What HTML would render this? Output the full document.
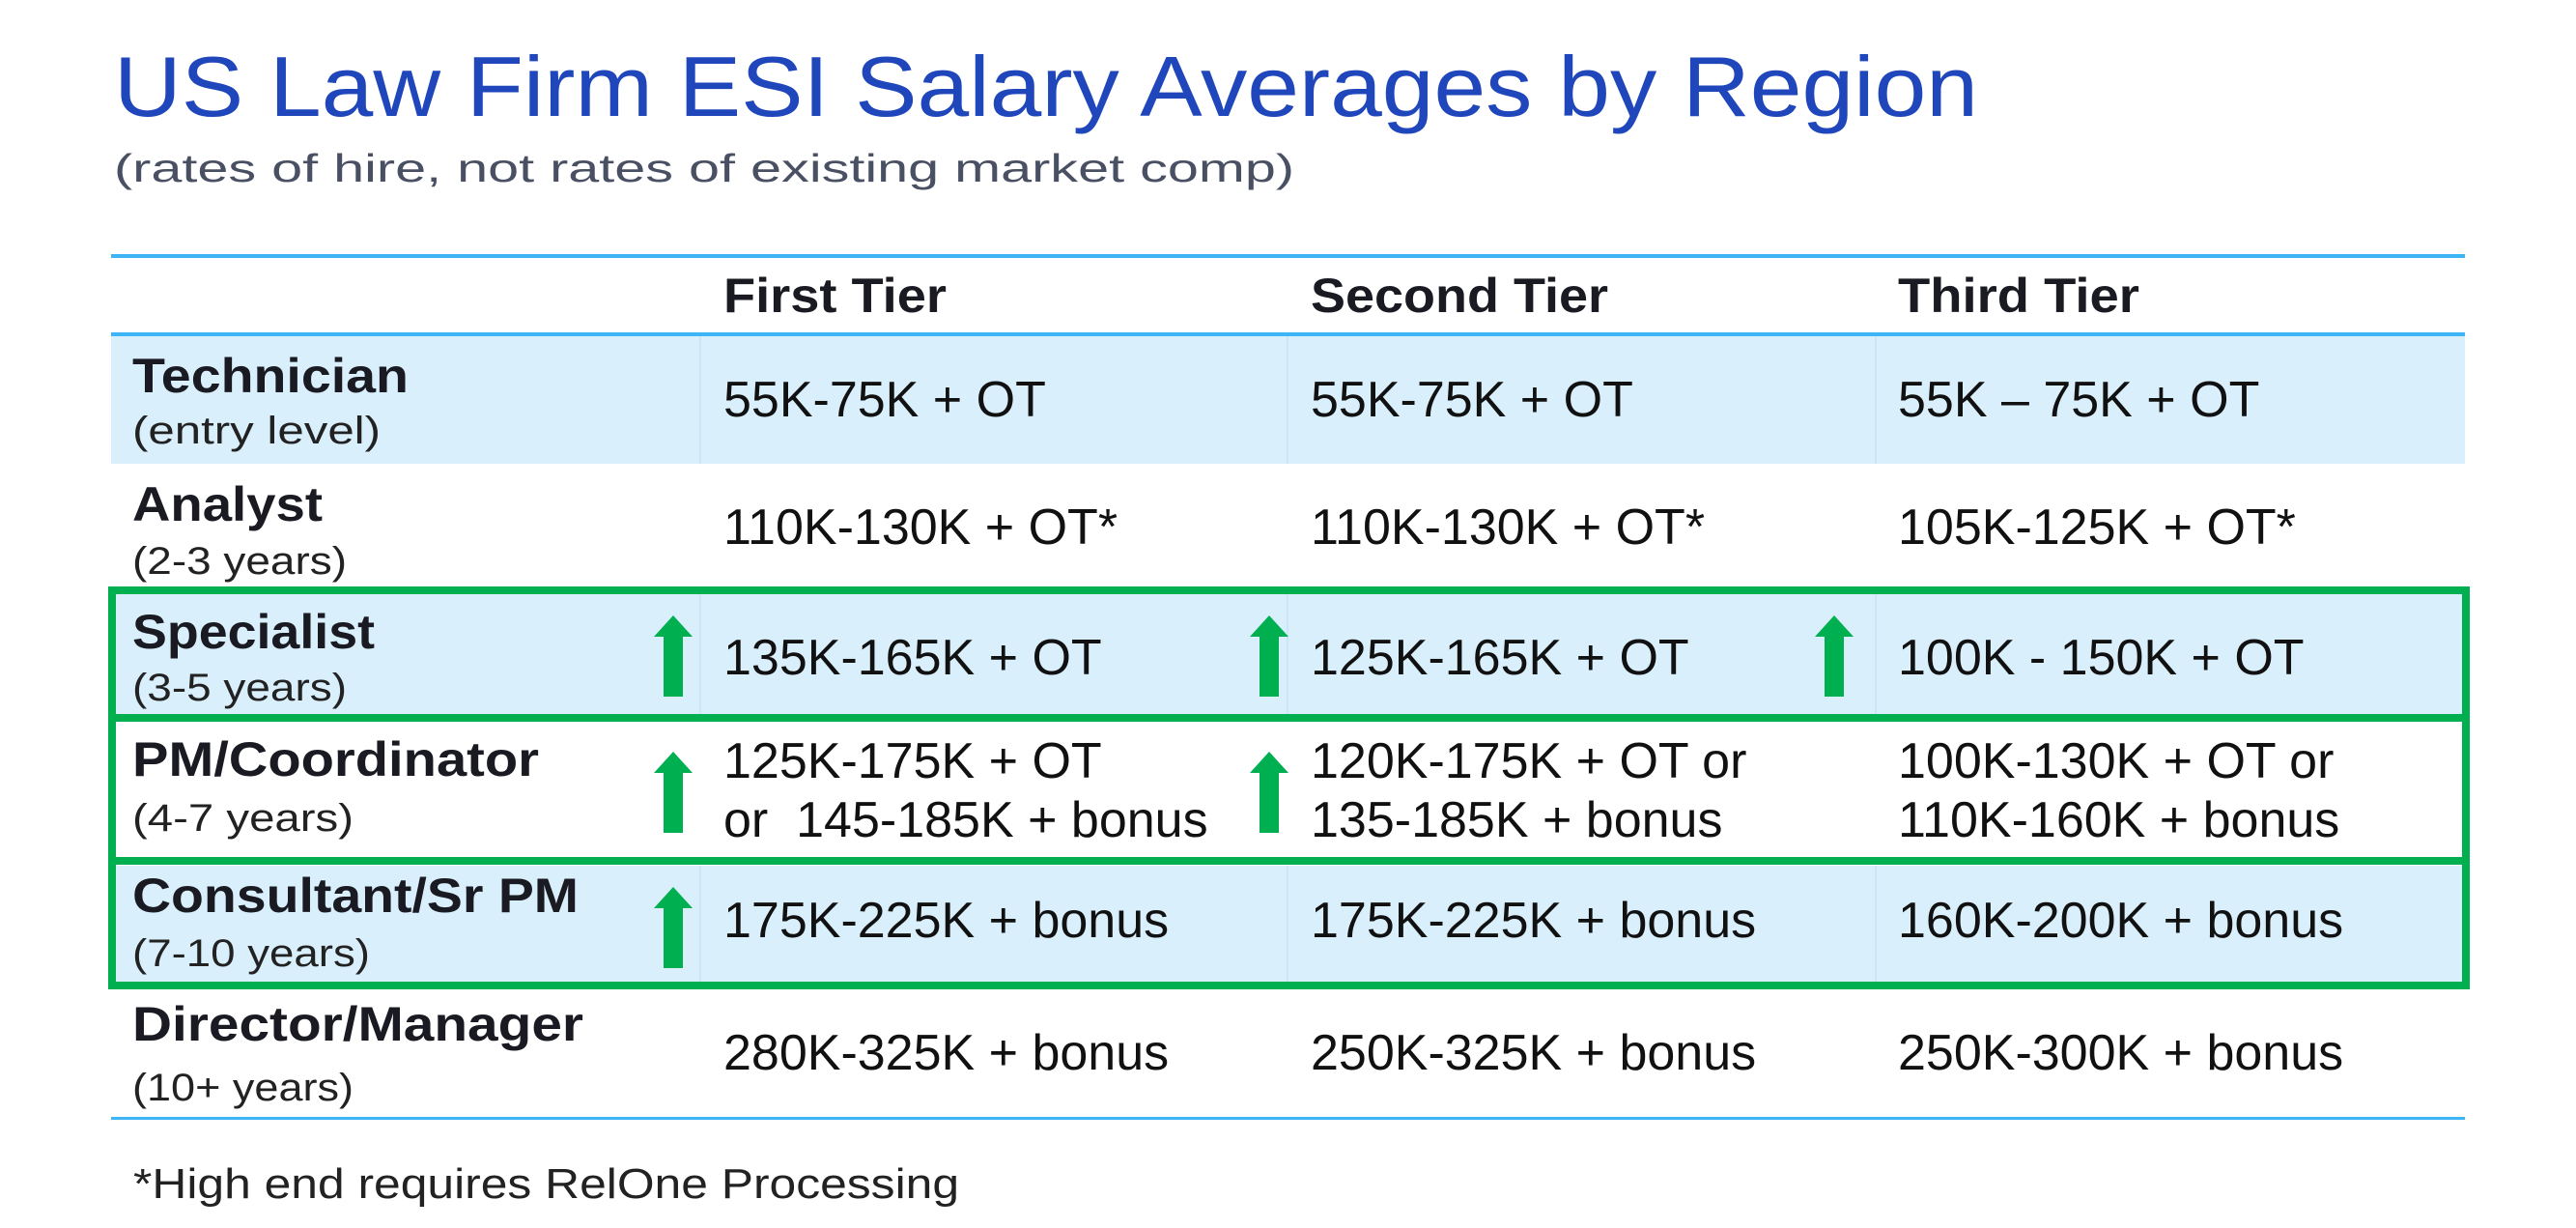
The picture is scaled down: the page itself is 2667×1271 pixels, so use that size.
<!DOCTYPE html>
<html><head><meta charset="utf-8"><style>
html,body{margin:0;padding:0;background:#fff;}
svg{display:block;}
text{font-family:"Liberation Sans",Arial,sans-serif;}
.v{font-size:52px;fill:#111;}
.l{font-size:50px;font-weight:bold;fill:#1a1a22;}
.s{font-size:40px;fill:#222;}
.h{font-size:50px;font-weight:bold;fill:#1a1a22;}
</style></head><body>
<svg width="2667" height="1271" viewBox="0 0 2667 1271" xmlns="http://www.w3.org/2000/svg">
<rect width="2667" height="1271" fill="#fff"/>
<text x="118" y="120" font-size="88" fill="#1f46bb" textLength="1930" lengthAdjust="spacingAndGlyphs">US Law Firm ESI Salary Averages by Region</text>
<text x="118" y="188" font-size="41" fill="#4a5063" textLength="1222" lengthAdjust="spacingAndGlyphs">(rates of hire, not rates of existing market comp)</text>
<rect x="115" y="346" width="2437" height="134" fill="#d9effc"/>
<rect x="115" y="615" width="2437" height="124" fill="#d9effc"/>
<rect x="115" y="896" width="2437" height="120" fill="#d9effc"/>
<g stroke="#c4e4f7" stroke-width="1.5">
<line x1="725" y1="346" x2="725" y2="480"/><line x1="1333" y1="346" x2="1333" y2="480"/><line x1="1942" y1="346" x2="1942" y2="480"/>
<line x1="725" y1="615" x2="725" y2="739"/><line x1="1333" y1="615" x2="1333" y2="739"/><line x1="1942" y1="615" x2="1942" y2="739"/>
<line x1="725" y1="896" x2="725" y2="1016"/><line x1="1333" y1="896" x2="1333" y2="1016"/><line x1="1942" y1="896" x2="1942" y2="1016"/>
</g>
<rect x="115" y="263" width="2437" height="4" fill="#3cb4f6"/>
<rect x="115" y="344" width="2437" height="4" fill="#3cb4f6"/>
<rect x="115" y="1156" width="2437" height="3" fill="#3cb4f6"/>
<rect x="116" y="611" width="2437" height="409" fill="none" stroke="#00b050" stroke-width="8"/>
<rect x="112" y="739" width="2445" height="8" fill="#00b050"/>
<rect x="112" y="887" width="2445" height="8" fill="#00b050"/>
<text class="h" x="749" y="323" textLength="231" lengthAdjust="spacingAndGlyphs">First Tier</text>
<text class="h" x="1357" y="323" textLength="308" lengthAdjust="spacingAndGlyphs">Second Tier</text>
<text class="h" x="1965" y="323" textLength="250" lengthAdjust="spacingAndGlyphs">Third Tier</text>
<text class="l" x="137" y="406" textLength="286" lengthAdjust="spacingAndGlyphs">Technician</text><text class="s" x="137" y="459" textLength="257" lengthAdjust="spacingAndGlyphs">(entry level)</text>
<text class="l" x="137" y="539" textLength="197" lengthAdjust="spacingAndGlyphs">Analyst</text><text class="s" x="137" y="594" textLength="222" lengthAdjust="spacingAndGlyphs">(2-3 years)</text>
<text class="l" x="137" y="671" textLength="251" lengthAdjust="spacingAndGlyphs">Specialist</text><text class="s" x="137" y="725" textLength="222" lengthAdjust="spacingAndGlyphs">(3-5 years)</text>
<text class="l" x="137" y="803" textLength="421" lengthAdjust="spacingAndGlyphs">PM/Coordinator</text><text class="s" x="137" y="860" textLength="229" lengthAdjust="spacingAndGlyphs">(4-7 years)</text>
<text class="l" x="137" y="944" textLength="462" lengthAdjust="spacingAndGlyphs">Consultant/Sr PM</text><text class="s" x="137" y="1000" textLength="246" lengthAdjust="spacingAndGlyphs">(7-10 years)</text>
<text class="l" x="137" y="1077" textLength="467" lengthAdjust="spacingAndGlyphs">Director/Manager</text><text class="s" x="137" y="1139" textLength="229" lengthAdjust="spacingAndGlyphs">(10+ years)</text>
<text class="v" x="749" y="431">55K-75K + OT</text><text class="v" x="1357" y="431">55K-75K + OT</text><text class="v" x="1965" y="431">55K – 75K + OT</text>
<text class="v" x="749" y="563">110K-130K + OT*</text><text class="v" x="1357" y="563">110K-130K + OT*</text><text class="v" x="1965" y="563">105K-125K + OT*</text>
<text class="v" x="749" y="698">135K-165K + OT</text><text class="v" x="1357" y="698">125K-165K + OT</text><text class="v" x="1965" y="698">100K - 150K + OT</text>
<text class="v" x="749" y="805">125K-175K + OT</text><text class="v" x="1357" y="805">120K-175K + OT or</text><text class="v" x="1965" y="805">100K-130K + OT or</text>
<text class="v" x="749" y="866" xml:space="preserve">or  145-185K + bonus</text><text class="v" x="1357" y="866">135-185K + bonus</text><text class="v" x="1965" y="866">110K-160K + bonus</text>
<text class="v" x="749" y="970">175K-225K + bonus</text><text class="v" x="1357" y="970">175K-225K + bonus</text><text class="v" x="1965" y="970">160K-200K + bonus</text>
<text class="v" x="749" y="1107">280K-325K + bonus</text><text class="v" x="1357" y="1107">250K-325K + bonus</text><text class="v" x="1965" y="1107">250K-300K + bonus</text>
<text x="138" y="1240" font-size="44" fill="#222" textLength="855" lengthAdjust="spacingAndGlyphs">*High end requires RelOne Processing</text>
<defs><path id="ar" d="M0 0 L20 22 L10 22 L10 84 L-10 84 L-10 22 L-20 22 Z" fill="#00b050"/></defs>
<use href="#ar" x="697" y="637"/><use href="#ar" x="1314" y="637"/><use href="#ar" x="1899" y="637"/>
<use href="#ar" x="697" y="778"/><use href="#ar" x="1314" y="778"/>
<use href="#ar" x="697" y="918"/>
</svg>
</body></html>
